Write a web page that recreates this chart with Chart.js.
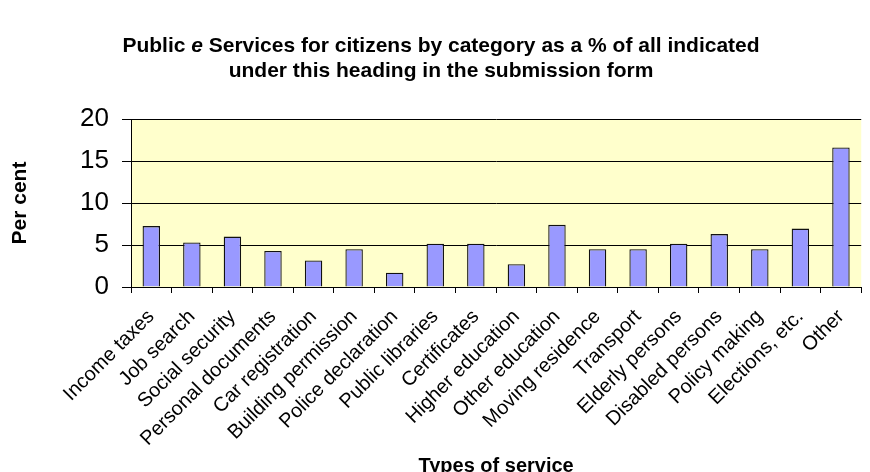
<!DOCTYPE html>
<html>
<head>
<meta charset="utf-8">
<script src="https://cdn.jsdelivr.net/npm/chart.js@4.4.0/dist/chart.umd.min.js"></script>
<style>
  body { margin: 0; background: #fff; }
</style>
</head>
<body>
<canvas id="chart" width="870" height="472"></canvas>
<script>
// title pieces (the "e" is italic in the original)
const titleLine1 = ['Public ', 'e', ' Services for citizens by category as a % of all indicated'];
const titleLine2 = 'under this heading in the submission form';

const categories = [
    'Income taxes', 'Job search', 'Social security', 'Personal documents',
    'Car registration', 'Building permission', 'Police declaration', 'Public libraries',
    'Certificates', 'Higher education', 'Other education', 'Moving residence',
    'Transport', 'Elderly persons', 'Disabled persons', 'Policy making',
    'Elections, etc.', 'Other'
];
const shares = [7.25, 5.3, 6.0, 4.3, 3.15, 4.5, 1.7, 5.15, 5.15, 2.7, 7.4, 4.5, 4.5, 5.15, 6.3, 4.5, 6.95, 16.6];
const yMin = 0;
const yMax = 20;
const yStep = 5;

const FONT = '"Liberation Sans", Arial, sans-serif';

// yellow plot background
const plotBackground = {
    id: 'plotBackground',
    beforeDraw(chart) {
        const { ctx, chartArea } = chart;
        ctx.save();
        ctx.fillStyle = '#FFFFCC';
        ctx.fillRect(chartArea.left, chartArea.top, chartArea.right - chartArea.left, chartArea.bottom - chartArea.top);
        ctx.restore();
    }
};

// two line title with italic "e"
const pageTitle = {
    id: 'pageTitle',
    afterDraw(chart) {
        const ctx = chart.ctx;
        const bold = 'bold 21px ' + FONT;
        const italic = 'italic bold 21px ' + FONT;
        const cx = 441;
        ctx.save();
        ctx.fillStyle = '#000';
        ctx.textBaseline = 'middle';
        ctx.textAlign = 'left';

        const fonts = [bold, italic, bold];
        let widths = titleLine1.map((t, i) => { ctx.font = fonts[i]; return ctx.measureText(t).width; });
        let x = cx - widths.reduce((a, b) => a + b, 0) / 2;
        titleLine1.forEach((t, i) => {
            ctx.font = fonts[i];
            ctx.fillText(t, x, 46);
            x += widths[i];
        });

        ctx.font = bold;
        ctx.textAlign = 'center';
        ctx.fillText(titleLine2, cx, 71);
        ctx.restore();
    }
};

new Chart(document.getElementById('chart'), {
    type: 'bar',
    data: {
        labels: categories,
        datasets: [{
            data: shares,
            backgroundColor: '#9999FF',
            borderColor: '#111',
            borderWidth: 1.3,
            barPercentage: 0.43,
            categoryPercentage: 1
        }]
    },
    options: {
        responsive: false,
        animation: false,
        layout: { padding: { top: 119, right: 3, left: 0, bottom: 0 } },
        plugins: {
            legend: { display: false },
            title: { display: false },
            tooltip: { enabled: false }
        },
        scales: {
            x: {
                afterFit: (scale) => { scale.height = 185; },
                grid: { drawOnChartArea: false, color: '#000', tickLength: 6, offset: true },
                border: { color: '#000', width: 1 },
                ticks: {
                    color: '#000',
                    font: { family: FONT, size: 20 },
                    maxRotation: 45,
                    minRotation: 45,
                    autoSkip: false,
                    padding: 12
                },
                title: {
                    display: true,
                    text: 'Types of service',
                    color: '#000',
                    font: { family: FONT, size: 20, weight: 'bold' },
                    padding: { top: 0, bottom: -6 }
                }
            },
            y: {
                min: yMin,
                max: yMax,
                afterFit: (scale) => { scale.width = 131; },
                grid: { color: '#000', lineWidth: 1, tickLength: 9 },
                border: { color: '#000', width: 1 },
                ticks: {
                    stepSize: yStep,
                    color: '#000',
                    font: { family: FONT, size: 26 },
                    padding: 13
                },
                title: {
                    display: true,
                    text: 'Per cent',
                    color: '#000',
                    font: { family: FONT, size: 21, weight: 'bold' },
                    padding: { top: 8, bottom: 0 }
                }
            }
        }
    },
    plugins: [plotBackground, pageTitle]
});
</script>
</body>
</html>
